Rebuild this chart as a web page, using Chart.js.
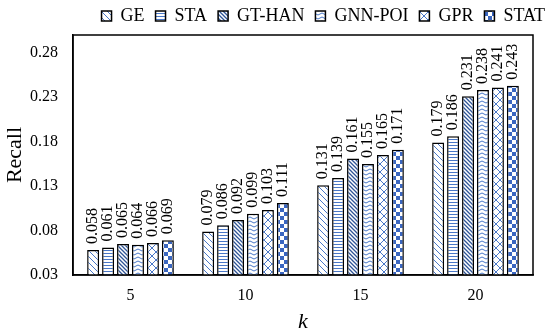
<!DOCTYPE html>
<html>
<head>
<meta charset="utf-8">
<script src="https://cdn.jsdelivr.net/npm/chart.js@4"></script>
<style>
  body { margin: 0; background: #fff; }
  #wrap { width: 550px; height: 336px; }
</style>
</head>
<body>
<div id="wrap"><canvas id="chart"></canvas></div>
<script>
// chart data
const categories = ['5', '10', '15', '20'];
const seriesNames = ['GE', 'STA', 'GT-HAN', 'GNN-POI', 'GPR', 'STAT'];
const geValues = [0.058, 0.079, 0.131, 0.179];
const staValues = [0.061, 0.086, 0.139, 0.186];
const gthanValues = [0.065, 0.092, 0.161, 0.231];
const gnnpoiValues = [0.064, 0.099, 0.155, 0.238];
const gprValues = [0.066, 0.103, 0.165, 0.241];
const statValues = [0.069, 0.111, 0.171, 0.243];
const yTicks = [0.03, 0.08, 0.13, 0.18, 0.23, 0.28];

const BLUE = '#4a78c8';
const DARK = '#2f5597';

// build the hatch fills on small canvases
function makePattern(kind) {
    const c = document.createElement('canvas');
    const g = c.getContext('2d');
    let s = 6;
    if (kind === 'check') s = 8;
    if (kind === 'wave' || kind === 'zigzag') s = 8;
    c.width = s; c.height = s;
    g.fillStyle = '#fff';
    g.fillRect(0, 0, s, s);
    g.strokeStyle = BLUE;
    g.lineWidth = 1;
    if (kind === 'diag') {
        g.beginPath();
        g.moveTo(0, 0); g.lineTo(s, s);
        g.moveTo(-s / 2, s / 2); g.lineTo(s / 2, s * 1.5);
        g.moveTo(s / 2, -s / 2); g.lineTo(s * 1.5, s / 2);
        g.stroke();
    } else if (kind === 'horiz') {
        g.fillStyle = BLUE;
        g.fillRect(0, 1, s, 1);
        g.fillRect(0, 4, s, 1);
    } else if (kind === 'dense') {
        c.width = 4; c.height = 4; s = 4;
        g.fillStyle = '#fff';
        g.fillRect(0, 0, s, s);
        g.strokeStyle = DARK;
        g.lineWidth = 1.3;
        g.beginPath();
        g.moveTo(0, 0); g.lineTo(s, s);
        g.moveTo(-s / 2, s / 2); g.lineTo(s / 2, s * 1.5);
        g.moveTo(s / 2, -s / 2); g.lineTo(s * 1.5, s / 2);
        g.stroke();
    } else if (kind === 'wave') {
        g.beginPath();
        for (let y = 2; y < s; y += 4) {
            g.moveTo(0, y);
            g.quadraticCurveTo(2, y - 2, 4, y);
            g.quadraticCurveTo(6, y + 2, 8, y);
        }
        g.stroke();
    } else if (kind === 'zigzag') {
        g.beginPath();
        g.moveTo(0, 0); g.lineTo(s, s);
        g.moveTo(s, 0); g.lineTo(0, s);
        g.stroke();
    } else if (kind === 'check') {
        g.fillStyle = '#3a66c0';
        g.fillRect(0, 0, 4, 4);
        g.fillRect(4, 4, 4, 4);
    }
    return g.createPattern(c, 'repeat');
}

const kinds = ['diag', 'horiz', 'dense', 'wave', 'zigzag', 'check'];
const valueSets = [geValues, staValues, gthanValues, gnnpoiValues, gprValues, statValues];

const datasets = seriesNames.map((name, i) => ({
    label: name,
    data: valueSets[i],
    backgroundColor: makePattern(kinds[i]),
    borderColor: '#000',
    borderWidth: 1.5,
    barPercentage: 0.8,
    categoryPercentage: 0.78
}));

const serif = '"Liberation Serif", "Times New Roman", serif';

// draws values above each bar, rotated
const valueLabels = {
    id: 'valueLabels',
    afterDatasetsDraw(chart) {
        const ctx = chart.ctx;
        ctx.save();
        ctx.fillStyle = '#000';
        ctx.font = '16px ' + serif;
        ctx.textAlign = 'left';
        ctx.textBaseline = 'middle';
        chart.data.datasets.forEach((ds, di) => {
            chart.getDatasetMeta(di).data.forEach((bar, j) => {
                ctx.save();
                ctx.translate(bar.x, bar.y - 6);
                ctx.rotate(-Math.PI / 2);
                ctx.fillText(ds.data[j].toFixed(3), 0, 0);
                ctx.restore();
            });
        });
        ctx.restore();
    }
};

// frame around plot area
const frame = {
    id: 'frame',
    afterDraw(chart) {
        const a = chart.chartArea;
        const ctx = chart.ctx;
        ctx.save();
        ctx.strokeStyle = '#000';
        ctx.lineWidth = 1.5;
        ctx.strokeRect(a.left, a.top, a.right - a.left, a.bottom - a.top);
        ctx.restore();
    }
};

new Chart(document.getElementById('chart'), {
    type: 'bar',
    data: { labels: categories, datasets: datasets },
    plugins: [valueLabels, frame],
    options: {
        responsive: true,
        maintainAspectRatio: false,
        animation: false,
        layout: { padding: { left: 2, right: -6, top: -4, bottom: 1 } },
        plugins: {
            legend: {
                position: 'top',
                align: 'end',
                labels: {
                    boxWidth: 10,
                    boxHeight: 10,
                    padding: 11,
                    color: '#000',
                    font: { family: serif, size: 18 }
                }
            },
            tooltip: { enabled: false }
        },
        scales: {
            x: {
                grid: { display: false, drawTicks: false },
                border: { color: '#000', width: 1.5 },
                afterFit(axis) { axis.height = 60; },
                ticks: { color: '#000', padding: 11, font: { family: serif, size: 16 } },
                title: {
                    display: true,
                    text: 'k',
                    color: '#000',
                    padding: { top: 2, bottom: 0 },
                    font: { family: serif, size: 22, style: 'italic' }
                }
            },
            y: {
                min: 0.03,
                max: 0.30,
                grid: { display: false, drawTicks: false },
                border: { color: '#000', width: 1.5 },
                afterFit(axis) { axis.width = 71; },
                afterBuildTicks(axis) {
                    axis.ticks = yTicks.map(v => ({ value: v }));
                },
                ticks: {
                    color: '#000',
                    padding: 15,
                    font: { family: serif, size: 16 },
                    callback: v => Number(v).toFixed(2)
                },
                title: {
                    display: true,
                    text: 'Recall',
                    color: '#000',
                    padding: { top: 0, bottom: 0 },
                    font: { family: serif, size: 22 }
                }
            },
            // empty axis on the right, only to leave the gap the reference has
            yRight: {
                position: 'right',
                display: true,
                grid: { display: false, drawTicks: false },
                border: { display: false },
                ticks: { display: false },
                afterFit(axis) { axis.width = 23; }
            }
        }
    }
});
</script>
</body>
</html>
